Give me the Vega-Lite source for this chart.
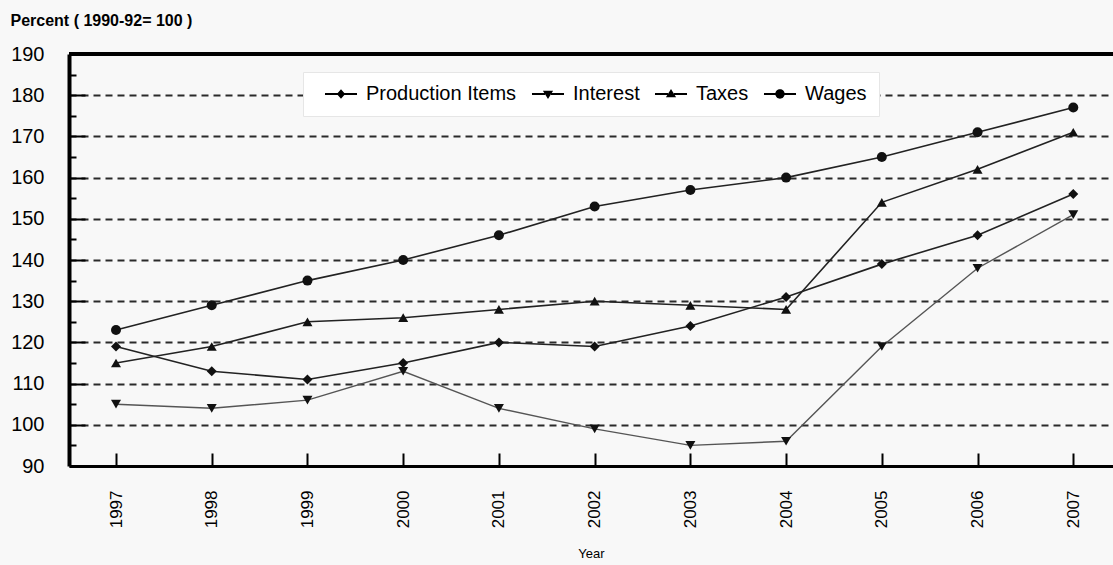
{
  "$schema": "https://vega.github.io/schema/vega-lite/v6.json",
  "width": 1044,
  "height": 412,
  "autosize": {"type": "none"},
  "padding": {"left": 69, "top": 54, "right": 0, "bottom": 99},
  "background": "#f8f8f8",
  "config": {
    "view": {"stroke": null},
    "font": "Liberation Sans",
    "axis": {"labelFont": "Liberation Sans", "titleFont": "Liberation Sans", "labelColor": "#000", "titleColor": "#000"},
    "legend": {"labelFont": "Liberation Sans"}
  },
  "data": {
    "values": [
      {"year": 1997, "series": "Production Items", "value": 119},
      {"year": 1998, "series": "Production Items", "value": 113},
      {"year": 1999, "series": "Production Items", "value": 111},
      {"year": 2000, "series": "Production Items", "value": 115},
      {"year": 2001, "series": "Production Items", "value": 120},
      {"year": 2002, "series": "Production Items", "value": 119},
      {"year": 2003, "series": "Production Items", "value": 124},
      {"year": 2004, "series": "Production Items", "value": 131},
      {"year": 2005, "series": "Production Items", "value": 139},
      {"year": 2006, "series": "Production Items", "value": 146},
      {"year": 2007, "series": "Production Items", "value": 156},
      {"year": 1997, "series": "Interest", "value": 105},
      {"year": 1998, "series": "Interest", "value": 104},
      {"year": 1999, "series": "Interest", "value": 106},
      {"year": 2000, "series": "Interest", "value": 113},
      {"year": 2001, "series": "Interest", "value": 104},
      {"year": 2002, "series": "Interest", "value": 99},
      {"year": 2003, "series": "Interest", "value": 95},
      {"year": 2004, "series": "Interest", "value": 96},
      {"year": 2005, "series": "Interest", "value": 119},
      {"year": 2006, "series": "Interest", "value": 138},
      {"year": 2007, "series": "Interest", "value": 151},
      {"year": 1997, "series": "Taxes", "value": 115},
      {"year": 1998, "series": "Taxes", "value": 119},
      {"year": 1999, "series": "Taxes", "value": 125},
      {"year": 2000, "series": "Taxes", "value": 126},
      {"year": 2001, "series": "Taxes", "value": 128},
      {"year": 2002, "series": "Taxes", "value": 130},
      {"year": 2003, "series": "Taxes", "value": 129},
      {"year": 2004, "series": "Taxes", "value": 128},
      {"year": 2005, "series": "Taxes", "value": 154},
      {"year": 2006, "series": "Taxes", "value": 162},
      {"year": 2007, "series": "Taxes", "value": 171},
      {"year": 1997, "series": "Wages", "value": 123},
      {"year": 1998, "series": "Wages", "value": 129},
      {"year": 1999, "series": "Wages", "value": 135},
      {"year": 2000, "series": "Wages", "value": 140},
      {"year": 2001, "series": "Wages", "value": 146},
      {"year": 2002, "series": "Wages", "value": 153},
      {"year": 2003, "series": "Wages", "value": 157},
      {"year": 2004, "series": "Wages", "value": 160},
      {"year": 2005, "series": "Wages", "value": 165},
      {"year": 2006, "series": "Wages", "value": 171},
      {"year": 2007, "series": "Wages", "value": 177}
    ]
  },
  "layer": [
    {
      "transform": [{"filter": "datum.series !== 'Interest'"}],
      "mark": {"type": "line", "strokeWidth": 1.6, "color": "#222222"},
      "encoding": {
        "x": {
          "field": "year", "type": "quantitative",
          "scale": {"domain": [1996.509, 2007.415], "nice": false, "zero": false},
          "axis": {
            "values": [1997, 1998, 1999, 2000, 2001, 2002, 2003, 2004, 2005, 2006, 2007],
            "format": "d", "labelAngle": -90, "labelFontSize": 17, "labelPadding": 37,
            "tickSize": -13, "tickWidth": 2, "tickColor": "#000",
            "domainColor": "#000", "domainWidth": 3, "grid": false,
            "title": "Year", "titleFontSize": 13, "titleFontWeight": "normal", "titleY": 87, "titleBaseline": "middle"
          }
        },
        "y": {
          "field": "value", "type": "quantitative",
          "scale": {"domain": [90, 190], "nice": false, "zero": false},
          "axis": {
            "values": [90, 100, 110, 120, 130, 140, 150, 160, 170, 180, 190],
            "labelFontSize": 20, "labelPadding": 41,
            "tickSize": -16, "tickWidth": 2, "tickColor": "#000",
            "domainColor": "#000", "domainWidth": 4,
            "grid": true, "gridDash": [7, 5], "gridColor": "#2a2a2a", "gridWidth": 1.8,
            "gridOpacity": {"condition": {"test": "datum.value > 95 && datum.value < 185", "value": 1}, "value": 0},
            "title": "Percent ( 1990-92= 100 )", "titleAngle": 0, "titleX": -59, "titleY": -42,
            "titleAlign": "left", "titleBaseline": "top", "titleFontSize": 16, "titleFontWeight": "bold"
          }
        },
        "detail": {"field": "series"}
      }
    },
    {
      "transform": [{"filter": "datum.series === 'Interest'"}],
      "mark": {"type": "line", "strokeWidth": 1.4, "color": "#555555"},
      "encoding": {
        "x": {"field": "year", "type": "quantitative"},
        "y": {"field": "value", "type": "quantitative", "axis": null}
      }
    },
    {
      "mark": {"type": "point", "filled": true, "size": 100, "color": "#111", "opacity": 1},
      "encoding": {
        "x": {"field": "year", "type": "quantitative"},
        "y": {
          "field": "value", "type": "quantitative",
          "axis": {
            "orient": "left",
            "values": [95, 105, 115, 125, 135, 145, 155, 165, 175, 185],
            "labels": false, "domain": false, "grid": false, "title": null,
            "tickSize": -7, "tickWidth": 2, "tickColor": "#000"
          }
        },
        "shape": {
          "field": "series", "type": "nominal",
          "scale": {"domain": ["Production Items", "Interest", "Taxes", "Wages"], "range": ["diamond", "triangle-down", "triangle-up", "circle"]},
          "legend": null
        }
      }
    },
    {
      "transform": [{"filter": "datum.value < 0"}],
      "mark": {"type": "point", "filled": true, "color": "#000", "opacity": 1},
      "encoding": {
        "x": {"field": "year", "type": "quantitative"},
        "y": {"field": "value", "type": "quantitative", "axis": null},
        "shape": {
          "field": "series", "type": "nominal",
          "scale": {
            "domain": ["Production Items", "Interest", "Taxes", "Wages"],
            "range": [
              "M-2.67,-0.15L-0.4,-0.15L-0.4,0.15L-2.67,0.15ZM0.4,-0.15L2.67,-0.15L2.67,0.15L0.4,0.15ZM0,-0.8L0.7,0L0,0.8L-0.7,0Z",
              "M-2.67,-0.15L-0.5,-0.15L-0.5,0.15L-2.67,0.15ZM0.5,-0.15L2.67,-0.15L2.67,0.15L0.5,0.15ZM-0.85,-0.55L0.85,-0.55L0,0.85Z",
              "M-2.67,-0.15L-0.5,-0.15L-0.5,0.15L-2.67,0.15ZM0.5,-0.15L2.67,-0.15L2.67,0.15L0.5,0.15ZM0,-0.85L0.85,0.55L-0.85,0.55Z",
              "M-2.67,-0.15L-0.5,-0.15L-0.5,0.15L-2.67,0.15ZM0.5,-0.15L2.67,-0.15L2.67,0.15L0.5,0.15ZM-0.78,0A0.78,0.78,0,1,1,0.78,0A0.78,0.78,0,1,1,-0.78,0Z"
            ]
          },
          "legend": {
            "title": null, "orient": "none", "direction": "horizontal",
            "legendX": 234, "legendY": 18,
            "padding": 12, "fillColor": "#ffffff", "strokeColor": "#e6e6e6",
            "symbolSize": 144, "symbolOffset": 16, "labelOffset": 15, "columnPadding": 5,
            "labelFontSize": 20, "labelColor": "#000", "symbolOpacity": 1
          }
        }
      }
    },
    {
      "mark": {"type": "rule", "color": "#000", "strokeWidth": 3},
      "encoding": {"y": {"datum": 190, "type": "quantitative", "axis": null}}
    }
  ],
  "resolve": {"axis": {"y": "independent"}, "scale": {"shape": "independent"}}
}
